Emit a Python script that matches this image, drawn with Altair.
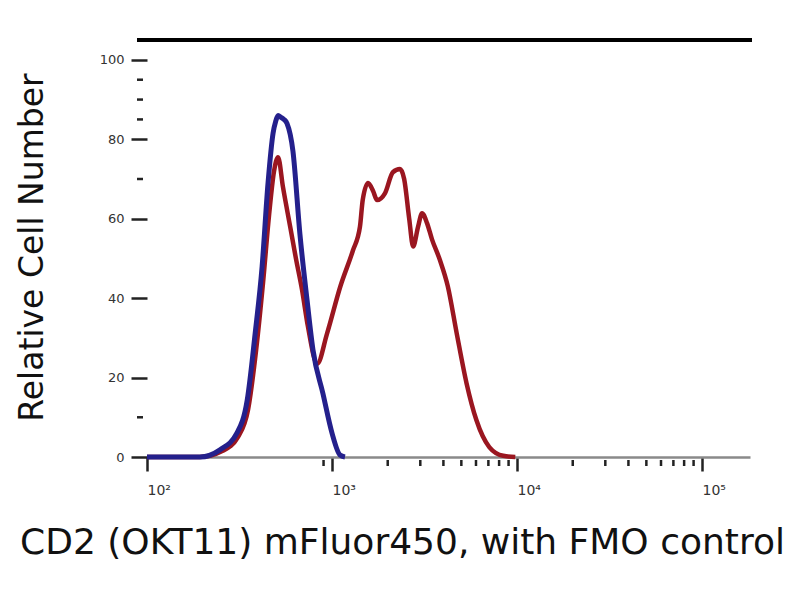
import altair as alt
import pandas as pd

# FMO control (blue) histogram: fluorescence intensity vs relative cell number
blue_x = [100, 193, 248, 306, 348, 384, 419, 451, 480, 496, 511, 530, 550, 571, 615, 671, 733, 789, 893, 1000, 1104, 1175]
blue_y = [0, 0, 1.8, 6, 14.3, 31, 48, 69, 81.5, 84.5, 86, 85.5, 85, 84, 77, 56, 39.5, 27, 16, 6, 0.5, 0]

# CD2 stained sample (red) histogram
red_x = [100, 193, 255, 310, 352, 389, 424, 457, 486, 511, 543, 594, 638, 689, 740, 832, 939, 1110, 1297,
         1416, 1465, 1566, 1667, 1751, 1932, 2132, 2330, 2454, 2613, 2744, 2919, 3066, 3262, 3470, 3829,
         4224, 4717, 5333, 6029, 7080, 8423, 9786]
red_y = [0, 0, 1.5, 5, 12, 27, 44, 61, 72, 75.5, 68, 58, 50, 42, 33, 23.5, 31, 43, 52,
         58, 64.7, 69, 67, 64.7, 66.4, 71.7, 72.5, 70, 60, 53, 58, 61.4, 58.9, 54.8, 49.6,
         43, 31.2, 18.6, 9.3, 2.5, 0.3, 0]

x_major = [100, 1000, 10000, 100000]
x_minor = [900, 2000, 3000, 4000, 5000, 6000, 7000, 8000, 9000,
           20000, 30000, 40000, 50000, 60000, 70000, 80000, 90000]
y_major = [0, 20, 40, 60, 80, 100]
y_minor = [10, 70, 85, 90, 95]

x_domain = [100, 181600]
y_domain = [0, 105]

W, H = 603, 417

blue_df = pd.DataFrame({"x": blue_x, "y": blue_y})
red_df = pd.DataFrame({"x": red_x, "y": red_y})
xminor_df = pd.DataFrame({"x": x_minor})
yminor_df = pd.DataFrame({"y": y_minor})
top_df = pd.DataFrame({"y": [y_domain[1]]})

xscale = alt.Scale(type="log", domain=x_domain, nice=False)
yscale = alt.Scale(domain=y_domain, nice=False)

x_axis = alt.Axis(
    values=x_major,
    labelExpr="' 10' + (datum.value == 100 ? '²' : datum.value == 1000 ? '³' : datum.value == 10000 ? '⁴' : '⁵')",
    title="CD2 (OKT11) mFluor450, with FMO control",
    titleFont="DejaVu Sans",
    titleFontSize=36,
    titleFontWeight="normal",
    titleColor="#111",
    titleX=255,
    titleY=96,
    titleAlign="center",
    titleBaseline="alphabetic",
    titleLimit=800,
    labelFont="DejaVu Sans",
    labelFontSize=14,
    labelColor="#333",
    labelAlign="left",
    labelPadding=12,
    labelFlush=False,
    tickSize=14,
    tickWidth=2.5,
    tickColor="#222",
    domainColor="#8a8a8a",
    domainWidth=2.5,
    grid=False,
)

y_axis = alt.Axis(
    values=y_major,
    title="Relative Cell Number",
    titleFont="DejaVu Sans",
    titleFontSize=33,
    titleFontWeight="normal",
    titleColor="#111",
    titleX=-105,
    titleY=207,
    titleAngle=-90,
    titleAlign="center",
    titleBaseline="alphabetic",
    labelFont="DejaVu Sans",
    labelFontSize=13,
    labelColor="#333",
    labelPadding=7,
    tickSize=16,
    tickWidth=2.5,
    tickColor="#222",
    domain=False,
    grid=False,
)

X = alt.X("x:Q", scale=xscale, axis=x_axis)
Y = alt.Y("y:Q", scale=yscale, axis=y_axis)

red_line = alt.Chart(red_df).mark_line(color="#9a1620", strokeWidth=4.5, interpolate="monotone").encode(x=X, y=Y)
blue_line = alt.Chart(blue_df).mark_line(color="#24208c", strokeWidth=5, interpolate="monotone").encode(x=X, y=Y)

xminor = alt.Chart(xminor_df).mark_rule(color="#222", strokeWidth=2.5).encode(
    x=X, y=alt.value(H + 3), y2=alt.value(H + 9),
)
yminor = alt.Chart(yminor_df).mark_rule(color="#222", strokeWidth=2.5).encode(
    y=Y, x=alt.value(-10), x2=alt.value(-4),
)
top_line = alt.Chart(top_df).mark_rule(color="#000", strokeWidth=4).encode(
    y=Y, x=alt.value(-10), x2=alt.value(W + 2),
)

chart = alt.layer(red_line, blue_line, xminor, yminor, top_line).properties(
    width=W,
    height=H,
    autosize=alt.AutoSizeParams(type="none"),
    padding={"left": 139, "top": 32, "right": 42, "bottom": 120},
).configure(background="white", view=alt.ViewConfig(stroke=None))

chart.save("out.html", embed_options={"renderer": "svg", "actions": False})
